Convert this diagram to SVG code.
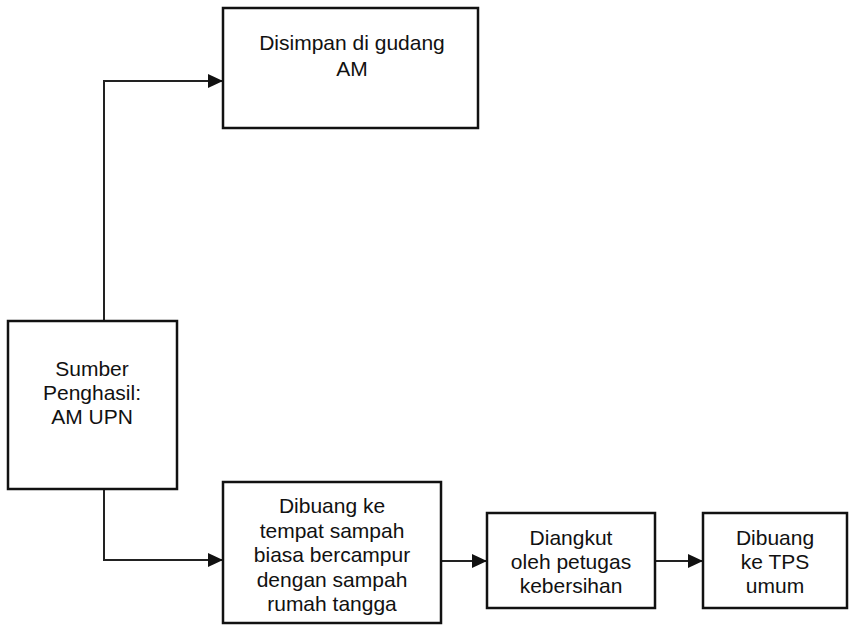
<svg xmlns="http://www.w3.org/2000/svg" width="849" height="625" viewBox="0 0 849 625">
  <style>
    .box { fill: #ffffff; stroke: #111111; stroke-width: 2.5; }
    .lbl { font-family: "Liberation Sans", Arial, sans-serif; font-size: 21px; fill: #111111; text-anchor: middle; }
    .wire { fill: none; stroke: #222222; stroke-width: 2; }
  </style>
  <defs>
    <marker id="head" markerWidth="15" markerHeight="14" refX="15" refY="7" orient="auto" markerUnits="userSpaceOnUse">
      <path d="M0,0 L15,7 L0,14 Z" fill="#111111"/>
    </marker>
  </defs>
  <rect width="849" height="625" fill="#ffffff"/>

  <g id="connectors">
    <path class="wire" d="M104,321 L104,81 L223,81" marker-end="url(#head)"/>
    <path class="wire" d="M104,489 L104,560 L223,560" marker-end="url(#head)"/>
    <path class="wire" d="M441,561 L487,561" marker-end="url(#head)"/>
    <path class="wire" d="M655,561 L703,561" marker-end="url(#head)"/>
  </g>

  <g id="disimpan">
    <rect class="box" x="223" y="8" width="255" height="120"/>
    <text class="lbl" x="352" y="50">Disimpan di gudang</text>
    <text class="lbl" x="352" y="76">AM</text>
  </g>

  <g id="sumber">
    <rect class="box" x="8" y="321" width="169" height="168"/>
    <text class="lbl" x="92" y="376">Sumber</text>
    <text class="lbl" x="92" y="400">Penghasil:</text>
    <text class="lbl" x="92" y="424">AM UPN</text>
  </g>

  <g id="dibuang-tempat">
    <rect class="box" x="223" y="482" width="218" height="141"/>
    <text class="lbl" x="332" y="513">Dibuang ke</text>
    <text class="lbl" x="332" y="537.5">tempat sampah</text>
    <text class="lbl" x="332" y="562">biasa bercampur</text>
    <text class="lbl" x="332" y="586.5">dengan sampah</text>
    <text class="lbl" x="332" y="611">rumah tangga</text>
  </g>

  <g id="diangkut">
    <rect class="box" x="487" y="513" width="168" height="95"/>
    <text class="lbl" x="571" y="545">Diangkut</text>
    <text class="lbl" x="571" y="569">oleh petugas</text>
    <text class="lbl" x="571" y="593">kebersihan</text>
  </g>

  <g id="tps">
    <rect class="box" x="703" y="513" width="144" height="95"/>
    <text class="lbl" x="775" y="545">Dibuang</text>
    <text class="lbl" x="775" y="569">ke TPS</text>
    <text class="lbl" x="775" y="593">umum</text>
  </g>
</svg>
